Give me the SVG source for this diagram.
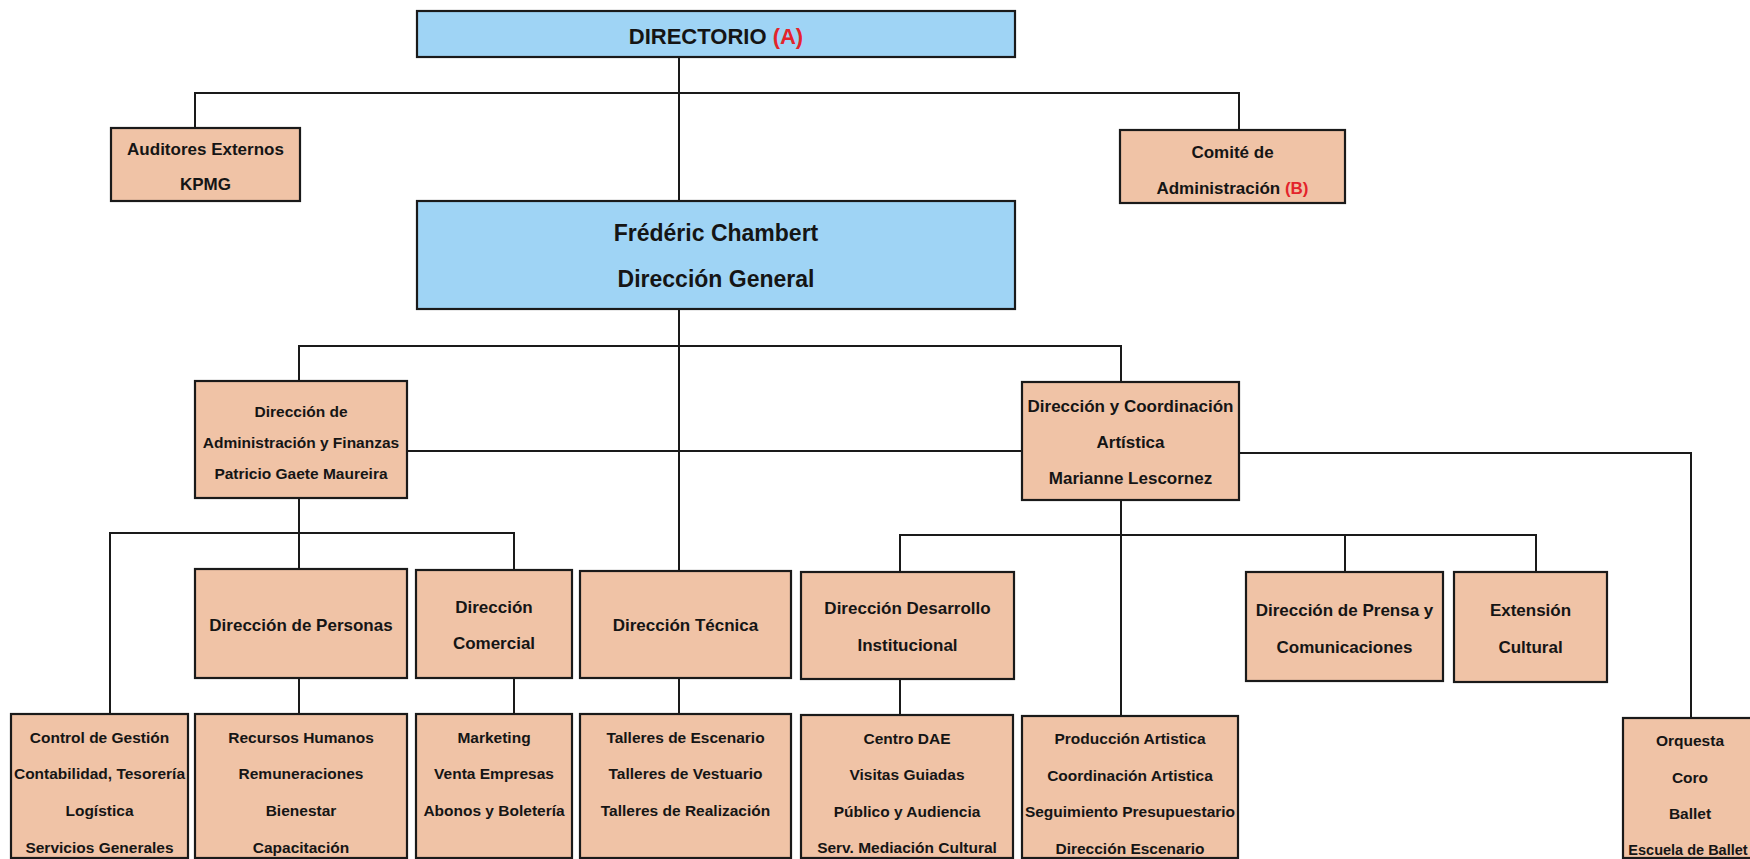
<svg xmlns="http://www.w3.org/2000/svg" width="1750" height="859" viewBox="0 0 1750 859">
<style>
.blue{fill:#9FD4F5;stroke:#1a1a1a;stroke-width:2.2}
.peach{fill:#F0C3A6;stroke:#1a1a1a;stroke-width:2.2}
.t{font-family:"Liberation Sans",Arial,sans-serif;font-weight:bold;fill:#151515;text-anchor:middle}
.s22{font-size:22px}.s23{font-size:23px}.s17{font-size:17px}.s16{font-size:15.5px}.s14{font-size:14.5px}
.red{fill:#E3242B}
#connectors path{fill:none;stroke:#1a1a1a;stroke-width:2}
</style>
<rect width="1750" height="859" fill="#ffffff"/>
<g id="connectors">
<path d="M679 57V201"/>
<path d="M195 128V93H1239V130"/>
<path d="M679 309V571"/>
<path d="M299 381V346H1121V382"/>
<path d="M407 451H1022"/>
<path d="M1239 453H1691V718"/>
<path d="M299 498V569"/>
<path d="M110 714V533H514V570"/>
<path d="M1121 500V716"/>
<path d="M900 572V535H1536V572"/>
<path d="M1345 535V572"/>
<path d="M299 678V714"/>
<path d="M514 678V714"/>
<path d="M679 678V714"/>
<path d="M900 679V715"/>
</g>
<g id="directorio"><rect class="blue" x="417" y="11" width="598" height="46"/><text class="t s22" x="716" y="44">DIRECTORIO <tspan class="red">(A)</tspan></text></g>
<g id="auditores"><rect class="peach" x="111" y="128" width="189" height="73"/><text class="t s17" x="205.5" y="155">Auditores Externos</text><text class="t s17" x="205.5" y="190">KPMG</text></g>
<g id="comite"><rect class="peach" x="1120" y="130" width="225" height="73"/><text class="t s17" x="1232.5" y="158">Comité de</text><text class="t s17" x="1232.5" y="194">Administración <tspan class="red">(B)</tspan></text></g>
<g id="direccion-general"><rect class="blue" x="417" y="201" width="598" height="108"/><text class="t s23" x="716" y="241">Frédéric Chambert</text><text class="t s23" x="716" y="287">Dirección General</text></g>
<g id="admin-finanzas"><rect class="peach" x="195" y="381" width="212" height="117"/><text class="t s16" x="301" y="416.5">Dirección de</text><text class="t s16" x="301" y="447.5">Administración y Finanzas</text><text class="t s16" x="301" y="478.5">Patricio Gaete Maureira</text></g>
<g id="coordinacion-artistica"><rect class="peach" x="1022" y="382" width="217" height="118"/><text class="t s17" x="1130.5" y="412">Dirección y Coordinación</text><text class="t s17" x="1130.5" y="448">Artística</text><text class="t s17" x="1130.5" y="484">Marianne Lescornez</text></g>
<g id="personas"><rect class="peach" x="195" y="569" width="212" height="109"/><text class="t s17" x="301" y="631">Dirección de Personas</text></g>
<g id="comercial"><rect class="peach" x="416" y="570" width="156" height="108"/><text class="t s17" x="494" y="613">Dirección</text><text class="t s17" x="494" y="649">Comercial</text></g>
<g id="tecnica"><rect class="peach" x="580" y="571" width="211" height="107"/><text class="t s17" x="685.5" y="631">Dirección Técnica</text></g>
<g id="desarrollo"><rect class="peach" x="801" y="572" width="213" height="107"/><text class="t s17" x="907.5" y="614">Dirección Desarrollo</text><text class="t s17" x="907.5" y="651">Institucional</text></g>
<g id="prensa"><rect class="peach" x="1246" y="572" width="197" height="109"/><text class="t s17" x="1344.5" y="616">Dirección de Prensa y</text><text class="t s17" x="1344.5" y="653">Comunicaciones</text></g>
<g id="extension"><rect class="peach" x="1454" y="572" width="153" height="110"/><text class="t s17" x="1530.5" y="616">Extensión</text><text class="t s17" x="1530.5" y="653">Cultural</text></g>
<g id="control"><rect class="peach" x="11" y="714" width="177" height="144"/><text class="t s16" x="99.5" y="742.5">Control de Gestión</text><text class="t s16" x="99.5" y="778.5">Contabilidad, Tesorería</text><text class="t s16" x="99.5" y="815.5">Logística</text><text class="t s16" x="99.5" y="852.5">Servicios Generales</text></g>
<g id="recursos"><rect class="peach" x="195" y="714" width="212" height="144"/><text class="t s16" x="301" y="742.5">Recursos Humanos</text><text class="t s16" x="301" y="778.5">Remuneraciones</text><text class="t s16" x="301" y="815.5">Bienestar</text><text class="t s16" x="301" y="852.5">Capacitación</text></g>
<g id="marketing"><rect class="peach" x="416" y="714" width="156" height="144"/><text class="t s16" x="494" y="742.5">Marketing</text><text class="t s16" x="494" y="778.5">Venta Empresas</text><text class="t s16" x="494" y="815.5">Abonos y Boletería</text></g>
<g id="talleres"><rect class="peach" x="580" y="714" width="211" height="144"/><text class="t s16" x="685.5" y="742.5">Talleres de Escenario</text><text class="t s16" x="685.5" y="778.5">Talleres de Vestuario</text><text class="t s16" x="685.5" y="815.5">Talleres de Realización</text></g>
<g id="centro-dae"><rect class="peach" x="801" y="715" width="212" height="143"/><text class="t s16" x="907" y="743.5">Centro DAE</text><text class="t s16" x="907" y="779.5">Visitas Guiadas</text><text class="t s16" x="907" y="816.5">Público y Audiencia</text><text class="t s16" x="907" y="853">Serv. Mediación Cultural</text></g>
<g id="produccion"><rect class="peach" x="1022" y="716" width="216" height="142"/><text class="t s16" x="1130" y="744">Producción Artistica</text><text class="t s16" x="1130" y="780.5">Coordinación Artistica</text><text class="t s16" x="1130" y="817">Seguimiento Presupuestario</text><text class="t s16" x="1130" y="853.5">Dirección Escenario</text></g>
<g id="orquesta"><rect class="peach" x="1623" y="718" width="140" height="140"/><text class="t s16" x="1690" y="745.5">Orquesta</text><text class="t s16" x="1690" y="782.5">Coro</text><text class="t s16" x="1690" y="818.5">Ballet</text><text class="t s14" x="1688" y="855">Escuela de Ballet</text></g>
</svg>
